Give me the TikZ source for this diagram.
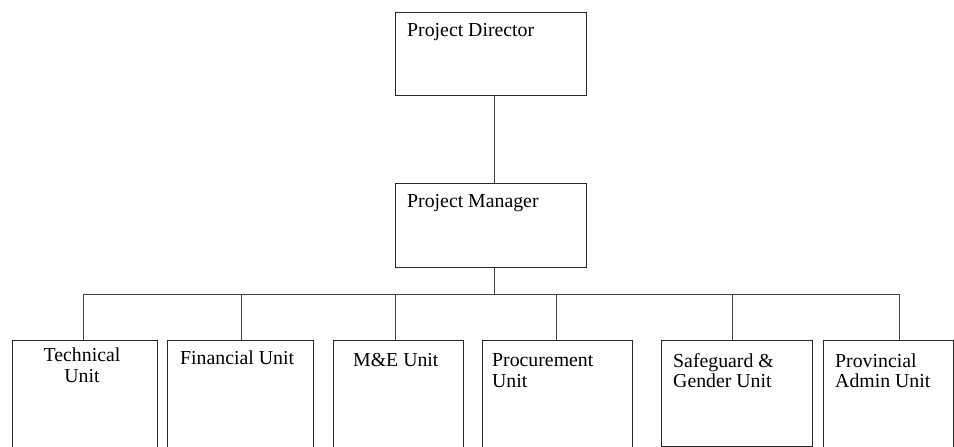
\documentclass[tikz,border=0pt]{standalone}
\usepackage{fontspec}
\setmainfont{Liberation Serif}
\begin{document}
\begin{tikzpicture}[x=1pt,y=-1pt,
  box/.style={draw=black!85,line width=0.9pt,inner sep=0pt,outer sep=0pt},
  conn/.style={draw=black!75,line width=0.9pt},
  lbl/.style={inner sep=0pt,anchor=base west,align=left,font=\fontsize{19.8}{20.5}\selectfont},
  clbl/.style={inner sep=0pt,anchor=base,align=center,font=\fontsize{19.8}{20.5}\selectfont}]
\useasboundingbox (0,0) rectangle (954,447);
\clip (0,0) rectangle (954,447);
% boxes
\node[box,minimum width=191pt,minimum height=83pt,anchor=north west] (pd) at (395,12) {};
\node[box,minimum width=191pt,minimum height=84pt,anchor=north west] (pm) at (395,183) {};
\node[box,minimum width=145pt,minimum height=130pt,anchor=north west] (tu) at (12,340) {};
\node[box,minimum width=146pt,minimum height=130pt,anchor=north west] (fu) at (167,340) {};
\node[box,minimum width=130pt,minimum height=130pt,anchor=north west] (me) at (333,340) {};
\node[box,minimum width=150pt,minimum height=130pt,anchor=north west] (pu) at (482,340) {};
\node[box,minimum width=151pt,minimum height=106pt,anchor=north west] (sg) at (661,340) {};
\node[box,minimum width=130pt,minimum height=130pt,anchor=north west] (pa) at (823,340) {};
% texts (multi-line nodes: base = last line)
\node[lbl] (tpd) at (407,36) {Project Director};
\node[lbl] (tpm) at (407,207) {Project Manager};
\node[clbl] (ttu) at (82,382) {Technical\\Unit};
\node[lbl] (tfu) at (180,364) {Financial Unit};
\node[lbl] (tme) at (353,366) {M\&E Unit};
\node[lbl] (tpu) at (492,387) {Procurement\\Unit};
\node[lbl] (tsg) at (673,387.5) {Safeguard \&\\Gender Unit};
\node[lbl] (tpa) at (835,387.5) {Provincial\\Admin Unit};
% connectors
\coordinate (bl) at (83,294);
\coordinate (br) at (899,294);
\draw[conn] (pd.south -| 494,0) -- (pm.north -| 494,0);
\draw[conn] (pm.south -| 494,0) -- (494,294);
\draw[conn] (bl) -- (br);
\draw[conn] (bl) -- (tu.north -| bl);
\draw[conn] (241,294) -- (fu.north -| 241,0);
\draw[conn] (395,294) -- (me.north -| 395,0);
\draw[conn] (556,294) -- (pu.north -| 556,0);
\draw[conn] (732,294) -- (sg.north -| 732,0);
\draw[conn] (br) -- (pa.north -| br);
\end{tikzpicture}
\end{document}
